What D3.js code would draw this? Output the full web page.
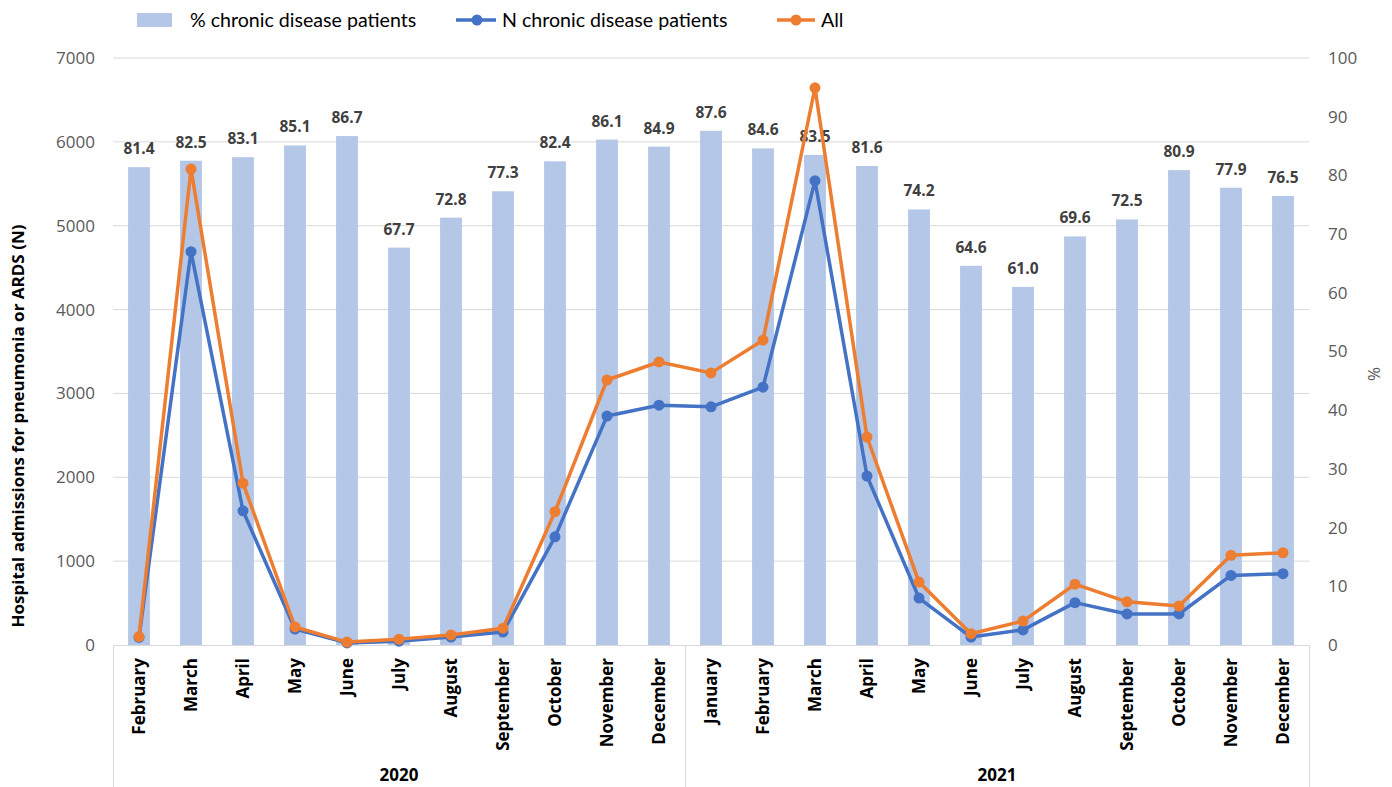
<!DOCTYPE html>
<html>
<head>
<meta charset="utf-8">
<script src="https://cdn.jsdelivr.net/npm/d3@7"></script>
<style>
  html, body { margin: 0; padding: 0; background: #fff; }
  svg { display: block; }
</style>
</head>
<body>
<svg id="chart" width="1392" height="787"></svg>
<script>
// Monthly categories, grouped by year
const months = ["February","March","April","May","June","July","August","September","October","November","December",
                "January","February","March","April","May","June","July","August","September","October","November","December"];
const years = ["2020","2020","2020","2020","2020","2020","2020","2020","2020","2020","2020",
               "2021","2021","2021","2021","2021","2021","2021","2021","2021","2021","2021","2021"];

// % of admissions from chronic disease patients (right axis)
const pctChronic = [81.4, 82.5, 83.1, 85.1, 86.7, 67.7, 72.8, 77.3, 82.4, 86.1, 84.9,
                    87.6, 84.6, 83.5, 81.6, 74.2, 64.6, 61.0, 69.6, 72.5, 80.9, 77.9, 76.5];

// Number of admissions among chronic disease patients (left axis)
const nChronic = [90, 4690, 1600, 190, 25, 45, 95, 155, 1290, 2730, 2860,
                  2840, 3075, 5535, 2015, 560, 95, 180, 505, 370, 370, 830, 850];

// Number of admissions, all patients (left axis)
const nAll = [100, 5675, 1930, 215, 35, 70, 120, 200, 1590, 3160, 3375,
              3245, 3635, 6645, 2480, 750, 135, 285, 725, 515, 465, 1070, 1100];

const leftTicks = [0, 1000, 2000, 3000, 4000, 5000, 6000, 7000];
const rightTicks = [0, 10, 20, 30, 40, 50, 60, 70, 80, 90, 100];

const C_BAR = "#b4c7e7", C_BLUE = "#4472c4", C_ORANGE = "#ed7d31";
const FONT = "'Open Sans', 'DejaVu Sans', sans-serif";
const FONT_C = "Lato, 'Open Sans', sans-serif";

const svg = d3.select("#chart");
const m = { left: 113, right: 1309, top: 58, bottom: 645 };

const idx = d3.range(months.length);
const x = d3.scaleBand().domain(idx).range([m.left, m.right]).paddingInner(0.58).paddingOuter(0.29);
const xc = i => x(i) + x.bandwidth() / 2;
const yL = d3.scaleLinear().domain([0, 7000]).range([m.bottom, m.top]);
const yR = d3.scaleLinear().domain([0, 100]).range([m.bottom, m.top]);

// Horizontal gridlines
svg.append("g").selectAll("line").data(leftTicks.filter(t => t > 0)).join("line")
  .attr("x1", m.left).attr("x2", m.right)
  .attr("y1", d => yL(d)).attr("y2", d => yL(d))
  .attr("stroke", "#d9d9d9").attr("stroke-width", 1);

// Left axis
const gL = svg.append("g").attr("transform", `translate(${m.left},0)`)
  .call(d3.axisLeft(yL).tickValues(leftTicks).tickSize(0).tickPadding(18).tickFormat(d3.format("d")));
gL.select(".domain").remove();
gL.selectAll("text").attr("font-family", FONT).attr("font-size", 17).attr("fill", "#595959");

// Right axis
const gR = svg.append("g").attr("transform", `translate(${m.right},0)`)
  .call(d3.axisRight(yR).tickValues(rightTicks).tickSize(0).tickPadding(19).tickFormat(d3.format("d")));
gR.select(".domain").remove();
gR.selectAll("text").attr("font-family", FONT).attr("font-size", 17).attr("fill", "#595959");

// Bars: % chronic disease patients
svg.append("g").selectAll("rect").data(pctChronic).join("rect")
  .attr("x", (d, i) => x(i)).attr("width", x.bandwidth())
  .attr("y", d => yR(d)).attr("height", d => yR(0) - yR(d))
  .attr("fill", C_BAR);

// Bar value labels
svg.append("g").selectAll("text").data(pctChronic).join("text")
  .attr("x", (d, i) => xc(i)).attr("y", d => yR(d) - 13)
  .attr("text-anchor", "middle")
  .attr("font-family", FONT).attr("font-weight", 700).attr("font-size", 15.5)
  .attr("fill", "#404040")
  .text(d => d.toFixed(1));

// Category axis frame
const frame = svg.append("g").attr("stroke", "#d9d9d9").attr("stroke-width", 1).attr("fill", "none");
frame.append("line").attr("x1", m.left).attr("x2", m.right).attr("y1", m.bottom + 0.5).attr("y2", m.bottom + 0.5);
const yearGroups = d3.groups(idx, i => years[i]);
const boundaries = [m.left];
yearGroups.forEach(([, is]) => boundaries.push(x(is[is.length - 1]) + x.step() - x.step() * x.paddingInner() / 2));
boundaries[boundaries.length - 1] = m.right;
boundaries.forEach(bx => frame.append("line")
  .attr("x1", Math.round(bx) + 0.5).attr("x2", Math.round(bx) + 0.5)
  .attr("y1", m.bottom).attr("y2", 787));

// Month labels
svg.append("g").selectAll("text").data(months).join("text")
  .attr("transform", (d, i) => `translate(${xc(i) + 6},${m.bottom + 13}) rotate(-90)`)
  .attr("text-anchor", "end")
  .attr("font-family", FONT).attr("font-weight", 700).attr("font-size", 17)
  .attr("fill", "#000")
  .text(d => d);

// Year labels
svg.append("g").selectAll("text").data(yearGroups).join("text")
  .attr("x", ([, is]) => (xc(is[0]) + xc(is[is.length - 1])) / 2)
  .attr("y", 781)
  .attr("text-anchor", "middle")
  .attr("font-family", FONT).attr("font-weight", 700).attr("font-size", 17)
  .attr("fill", "#000")
  .text(([yr]) => yr);

// Lines with markers
function drawSeries(values, color) {
  const line = d3.line().x((d, i) => xc(i)).y(d => yL(d));
  svg.append("path").datum(values)
    .attr("d", line).attr("fill", "none")
    .attr("stroke", color).attr("stroke-width", 3.5).attr("stroke-linejoin", "round");
  svg.append("g").selectAll("circle").data(values).join("circle")
    .attr("cx", (d, i) => xc(i)).attr("cy", d => yL(d)).attr("r", 5.5)
    .attr("fill", color);
}
drawSeries(nChronic, C_BLUE);
drawSeries(nAll, C_ORANGE);

// Axis titles
svg.append("text")
  .attr("transform", `translate(24,426) rotate(-90)`)
  .attr("text-anchor", "middle")
  .attr("font-family", FONT)
  .attr("font-weight", 700).attr("font-size", 16).attr("fill", "#000")
  .attr("textLength", 403).attr("lengthAdjust", "spacingAndGlyphs")
  .text("Hospital admissions for pneumonia or ARDS (N)");
svg.append("text")
  .attr("transform", `translate(1380,374) rotate(-90)`)
  .attr("text-anchor", "middle")
  .attr("font-family", FONT).attr("font-size", 17).attr("fill", "#595959")
  .text("%");

// Legend
const legend = svg.append("g").attr("font-family", FONT_C)
  .attr("font-size", 19.6).attr("fill", "#000");
legend.append("rect").attr("x", 137).attr("y", 13).attr("width", 35).attr("height", 14).attr("fill", C_BAR);
legend.append("text").attr("x", 190).attr("y", 27).text("% chronic disease patients");
legend.append("line").attr("x1", 456).attr("x2", 496).attr("y1", 20).attr("y2", 20)
  .attr("stroke", C_BLUE).attr("stroke-width", 3.5);
legend.append("circle").attr("cx", 477).attr("cy", 20).attr("r", 5.5).attr("fill", C_BLUE);
legend.append("text").attr("x", 502).attr("y", 27).text("N chronic disease patients");
legend.append("line").attr("x1", 777).attr("x2", 815).attr("y1", 20).attr("y2", 20)
  .attr("stroke", C_ORANGE).attr("stroke-width", 3.5);
legend.append("circle").attr("cx", 796).attr("cy", 20).attr("r", 5.5).attr("fill", C_ORANGE);
legend.append("text").attr("x", 821).attr("y", 27).text("All");
</script>
</body>
</html>
